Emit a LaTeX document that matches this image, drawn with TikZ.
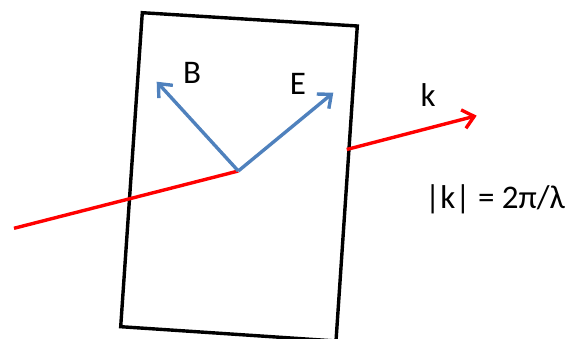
\documentclass[tikz,border=0pt]{standalone}
\usepackage{fontspec}
\setmainfont{Carlito}
\usetikzlibrary{arrows.meta}
\definecolor{fieldblue}{RGB}{79,129,189}
\definecolor{wavered}{RGB}{255,0,0}
\tikzset{
  plate/.style={draw=black, line width=3.4pt, line join=miter},
  ray/.style={draw=wavered, line width=3.4pt},
  rayarrow/.style={ray, -{Straight Barb[length=11pt,width=19pt,line width=3.4pt]}},
  fieldarrow/.style={draw=fieldblue, line width=3.4pt, -{Straight Barb[length=11pt,width=19pt,line width=3.4pt]}},
  lbl/.style={font=\fontsize{33}{38}\selectfont, inner sep=0pt, anchor=base}
}
\begin{document}
\begin{tikzpicture}[x=1pt,y=-1pt]
\useasboundingbox (0,0) rectangle (571,339);
% plate corners
\coordinate (tl) at (142.3,12.7);
\coordinate (tr) at (357.3,26);
\coordinate (br) at (336,341);
\coordinate (bl) at (120.7,326.7);
\draw[plate] (tl) -- (tr) -- (br) -- (bl) -- cycle;
% ray
\coordinate (start) at (14,228.3);
\coordinate (o) at (238.3,171);
\coordinate (exit) at (346.7,149.5);
\coordinate (ktip) at (476.7,115.7);
\draw[ray] (start) -- (o);
\draw[rayarrow] (exit) -- (ktip);
% fields
\coordinate (btip) at (156.7,81.7);
\coordinate (etip) at (333.3,92.7);
\draw[fieldarrow] (o) -- (btip);
\draw[fieldarrow] (o) -- (etip);
% labels
\node[lbl] (bl1) at (192,83.3) {B};
\node[lbl] (el1) at (298,95) {E};
\node[lbl] (kl) at (428,107) {k};
\node[lbl, anchor=base west] (kf) at (425,209) {|k| = 2π/λ};
\end{tikzpicture}
\end{document}
